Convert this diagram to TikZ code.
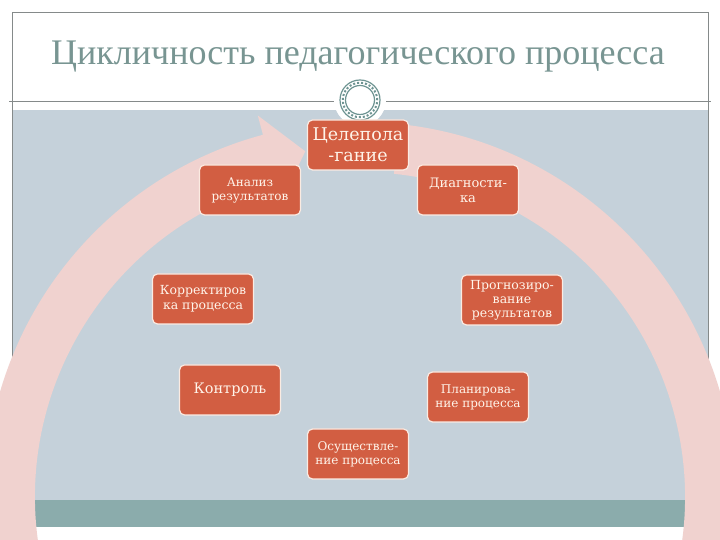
\documentclass[tikz,border=0pt]{standalone}
\usepackage{fontspec}
\setmainfont{DejaVu Serif}
\newfontfamily\titlefont{Liberation Serif}
\usetikzlibrary{calc}
\definecolor{panel}{HTML}{C5D1DA}
\definecolor{bar}{HTML}{8BACAC}
\definecolor{ring}{HTML}{F0D2CF}
\definecolor{boxfill}{HTML}{D25E42}
\definecolor{boxline}{HTML}{FBEBE2}
\definecolor{boxtext}{HTML}{FFF4EA}
\definecolor{titletext}{HTML}{789592}
\definecolor{frame}{HTML}{858A8A}
\definecolor{orn}{HTML}{6E9492}

\begin{document}
\begin{tikzpicture}[x=1pt, y=1pt,
    stage/.style={draw=boxline, line width=1.2pt, fill=boxfill,
      rounded corners=5pt, minimum width=101pt, minimum height=50pt,
      inner sep=2pt, align=center, text=boxtext}]
    \useasboundingbox (0,0) rectangle (720,540);
    \fill[white] (0,0) rectangle (720,540);

    % slide frame
    \fill[panel] (12,40) rectangle (708,430);
    \fill[bar] (12,13) rectangle (708,40);
    \draw[frame, line width=0.8pt] (12,13) -- (12,528) -- (708,528) -- (708,13);
    \draw[frame, line width=0.8pt] (9,439) -- (711,439);

    \node[text=titletext, font=\titlefont\fontsize{36}{40}\selectfont] (title)
      at (358,483) {Цикличность педагогического процесса};

    \node[circle, fill=white, minimum size=52pt, inner sep=0pt] (o) at (360,440) {};
    \draw[orn, line width=1.2pt] (o) circle[radius=20];
    \draw[orn, line width=1.2pt] (o) circle[radius=14.5];
    \draw[orn, line width=2pt, dotted] (o) circle[radius=17.25];

    % cycle arrow
    \coordinate (c) at (360,43);
    \begin{scope}
      \clip (0,0) rectangle (720,540);
      \fill[ring] ($(c)+(105:325)$) arc[start angle=105, end angle=444, radius=325]
        -- ($(c)+(444:375)$) arc[start angle=444, end angle=105, radius=375]
        -- ($(c)+(105:395)$) -- ($(c)+(99:350)$) -- ($(c)+(105:305)$) -- cycle;
    \end{scope}

    \node[stage, font=\fontsize{17.5}{21}\selectfont] (1) at (358,395) {Целепола\\-гание};
    \node[stage, font=\fontsize{12}{14}\selectfont] (2) at (250,350) {Анализ\\результатов};
    \node[stage, font=\fontsize{13}{15}\selectfont] (3) at (468,350) {Диагности-\\ка};
    \node[stage, font=\fontsize{12.5}{15}\selectfont] (4) at (203,241) {Корректиров\\ка процесса};
    \node[stage, font=\fontsize{12.5}{14}\selectfont] (5) at (512,240) {Прогнозиро-\\вание\\результатов};
    \node[stage, font=\fontsize{14.5}{17}\selectfont] (6) at (230,150) {Контроль};
    \node[stage, font=\fontsize{12}{14}\selectfont] (7) at (478,143) {Планирова-\\ние процесса};
    \node[stage, font=\fontsize{12}{14}\selectfont] (8) at (358,86) {Осуществле-\\ние процесса};
\end{tikzpicture}
\end{document}
